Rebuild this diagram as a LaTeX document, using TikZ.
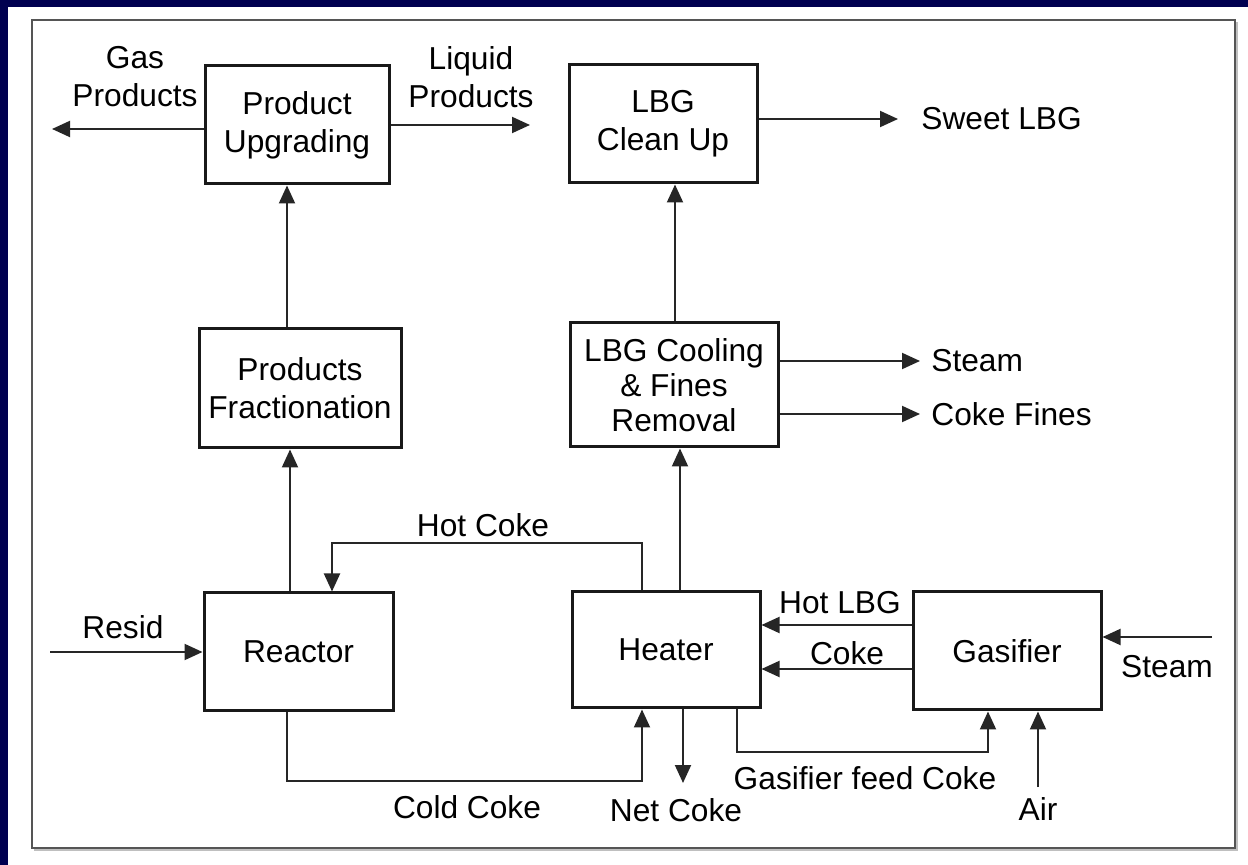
\documentclass[tikz,border=0pt]{standalone}
\usepackage{fontspec}
\setmainfont{Liberation Sans}
\usetikzlibrary{arrows.meta,calc}
\definecolor{Navy}{HTML}{000050}
\definecolor{FrameGray}{HTML}{555555}

\begin{document}
\begin{tikzpicture}[x=0.5pt, y=-0.5pt, >={Triangle[length=9pt,width=8pt]}, font=\fontsize{15.85}{19}\selectfont]
\tikzset{unit/.style={draw=black!90, line width=1.5pt, align=center, inner sep=0pt}, flow/.style={->, line width=1pt, draw=black!85}, tag/.style={align=center, inner sep=0pt}}
\useasboundingbox (0,0) rectangle (1248,865);
\fill[white] (0,0) rectangle (1248,865);
\fill[Navy] (0,0) rectangle (1248,7);
\fill[Navy] (0,0) rectangle (8,865);
\draw[FrameGray, line width=1pt] (32,20) rectangle (1235,848);
\draw[black!25, line width=0.6pt] (34,850) -- (1237,850) -- (1237,22);
% process units
\node[unit, minimum width=92pt, minimum height=59pt] (upgrade) at (297,125) {Product\\Upgrading};
\node[unit, minimum width=94pt, minimum height=59pt] (cleanup) at (663,124) {LBG\\Clean Up};
\node[unit, minimum width=101pt, minimum height=59.5pt] (fraction) at (300,388.5) {Products\\Fractionation};
\node[unit, minimum width=104pt, minimum height=62pt, font=\fontsize{15.85}{17.5}\selectfont] (cooling) at (674,385) {LBG Cooling\\\& Fines\\Removal};
\node[unit, minimum width=94.5pt, minimum height=59pt] (reactor) at (298.5,652) {Reactor};
\node[unit, minimum width=94pt, minimum height=58pt] (heater) at (666,650) {Heater};
\node[unit, minimum width=94pt, minimum height=59pt] (gasifier) at (1007,651) {Gasifier};
% free ends
\coordinate (gasout) at (52,129);
\coordinate (liqout) at (530,125);
\coordinate (sweetout) at (898,119);
\coordinate (steamout) at (920,361);
\coordinate (finesout) at (920,414);
\coordinate (residin) at (50,652);
\coordinate (steamin) at (1212,637);
\coordinate (airin) at (1038,787);
\coordinate (netout) at (683,783);
% streams
\draw[flow] (upgrade.west |- gasout) -- (gasout);
\draw[flow] (upgrade.east |- liqout) -- (liqout);
\draw[flow] (cleanup.east |- sweetout) -- (sweetout);
\draw[flow] (cooling.east |- steamout) -- (steamout);
\draw[flow] (cooling.east |- finesout) -- (finesout);
\draw[flow] (residin) -- (reactor.west |- residin);
\draw[flow] (steamin) -- (gasifier.east |- steamin);
\draw[flow] (airin) -- (gasifier.south -| airin);
\draw[flow] (heater.south -| netout) -- (netout);
\draw[flow] ($(fraction.north)+(-13,0)$) -- ($(upgrade.south)+(-10,0)$);
\draw[flow] ($(reactor.north)+(-8.5,0)$) -- ($(fraction.south)+(-10,0)$);
\draw[flow] ($(heater.north)+(14,0)$) -- ($(cooling.south)+(6,0)$);
\draw[flow] ($(cooling.north)+(1,0)$) -- ($(cleanup.south)+(12,0)$);
\draw[flow] ($(gasifier.west)+(0,-26)$) -- ($(heater.east)+(0,-25)$);
\draw[flow] ($(gasifier.west)+(0,18)$) -- ($(heater.east)+(0,19)$);
\draw[flow] ($(heater.north)+(-24,0)$) -- ++(0,-47) -| ($(reactor.north)+(33.5,0)$);
\draw[flow] ($(reactor.south)+(-11.5,0)$) -- ++(0,68) -| ($(heater.south)+(-24,0)$);
\draw[flow] ($(heater.south)+(71,0)$) -- ++(0,42) -| ($(gasifier.south)+(-19,0)$);
% labels
\node[tag] (gaslbl) at (135,77) {Gas\\Products};
\node[tag] (liqlbl) at (471,77) {Liquid\\Products};
\node[tag, anchor=west] (sweetlbl) at (921,119) {Sweet LBG};
\node[tag, anchor=west] (steamlbl) at (931,361) {Steam};
\node[tag, anchor=west] (fineslbl) at (931,414) {Coke Fines};
\node[tag] (hotcokelbl) at (483,525) {Hot Coke};
\node[tag] (residlbl) at (123,627) {Resid};
\node[tag] (hotlbglbl) at (840,603) {Hot LBG};
\node[tag] (cokelbl) at (847,653) {Coke};
\node[tag] (steaminlbl) at (1167,667) {Steam};
\node[tag] (coldlbl) at (467,807) {Cold Coke};
\node[tag] (netlbl) at (676,810) {Net Coke};
\node[tag] (feedlbl) at (865,778) {Gasifier feed Coke};
\node[tag] (airlbl) at (1038,809) {Air};
\end{tikzpicture}
\end{document}
